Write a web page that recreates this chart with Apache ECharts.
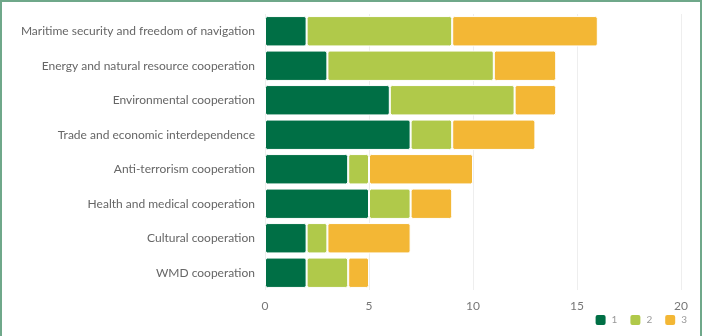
<!DOCTYPE html>
<html><head><meta charset="utf-8">
<script src="https://cdn.jsdelivr.net/npm/echarts@6/dist/echarts.min.js"></script>
<style>
html,body{margin:0;padding:0;background:#fff;}
#wrap{width:702px;height:336px;box-sizing:border-box;border-top:2px solid #6fa88a;border-left:2px solid #6fa88a;border-right:2px solid #6fa88a;}
#c{width:698px;height:334px;}
</style></head><body>
<div id="wrap"><div id="c"></div></div>
<script>
const categories = ["Maritime security and freedom of navigation","Energy and natural resource cooperation","Environmental cooperation","Trade and economic interdependence","Anti-terrorism cooperation","Health and medical cooperation","Cultural cooperation","WMD cooperation"];
const s1 = [2,3,6,7,4,5,2,2];
const s2 = [7,8,6,2,1,2,1,2];
const s3 = [7,3,2,4,5,2,4,1];
const names = ["1","2","3"];
const colors = ["#006f45","#b0c94a","#f3b735"];
const chart = echarts.init(document.getElementById('c'));
const mk = (n,d,c)=>({name:n,type:'bar',stack:'a',data:d,barCategoryGap:'12%',
  itemStyle:{color:c,borderColor:'#fff',borderWidth:1,borderRadius:2}});
chart.setOption({
  animation:false,
  textStyle:{fontFamily:'Lato'},
  grid:{left:263,right:19,top:12,bottom:46},
  legend:{right:8,bottom:4,itemWidth:12,itemHeight:12,itemGap:11,icon:'roundRect',
    textStyle:{color:'#999',fontSize:10,fontFamily:'Lato'}},
  xAxis:{type:'value',min:0,max:20,interval:5,axisLine:{show:false},axisTick:{show:false},
    splitLine:{lineStyle:{color:'#eeeeee'}},axisLabel:{color:'#777',fontSize:12,margin:10}},
  yAxis:{type:'category',inverse:true,data:categories,axisLine:{show:false},axisTick:{show:false},
    axisLabel:{color:'#666',fontSize:12,margin:10}},
  series:[mk(names[0],s1,colors[0]),mk(names[1],s2,colors[1]),mk(names[2],s3,colors[2])]
});
</script></body></html>
